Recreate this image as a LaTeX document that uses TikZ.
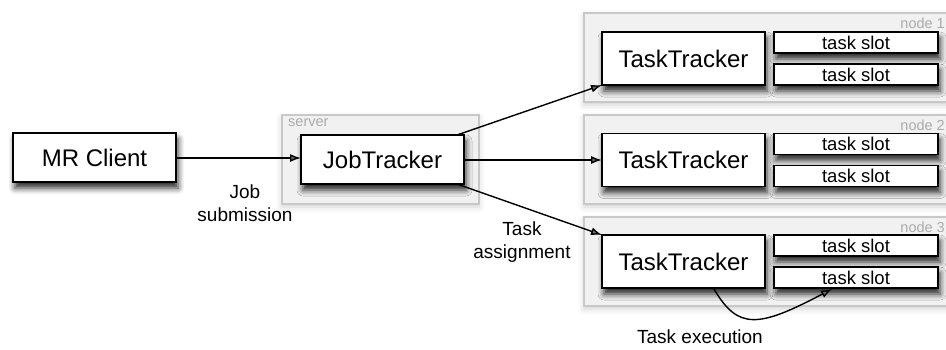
\documentclass[tikz,border=0pt]{standalone}
\usepackage{fontspec}
\setmainfont{Liberation Sans}
\usetikzlibrary{arrows.meta,shadows.blur}
\definecolor{boxgray}{HTML}{F1F1F1}
\definecolor{edgegray}{HTML}{C8C8C8}
\definecolor{labelgray}{HTML}{ABABAB}
\tikzset{
  host/.style={draw=edgegray,line width=1.5pt,fill=boxgray,
    blur shadow={shadow xshift=0pt,shadow yshift=-3pt,shadow blur radius=6pt,shadow opacity=18}},
  proc/.style={draw=black,line width=1.6pt,fill=white,
    blur shadow={shadow xshift=2pt,shadow yshift=-6pt,shadow blur radius=6pt,shadow opacity=85}},
  bigtxt/.style={font=\fontsize{24}{28}\selectfont},
  slottxt/.style={font=\fontsize{18.5}{21}\selectfont},
  captxt/.style={font=\fontsize{19}{23}\selectfont,align=center},
  hostlbl/.style={text=labelgray,font=\fontsize{14.5}{16}\selectfont,inner sep=0pt},
  flow/.style={line width=1.4pt,-{Latex[length=11pt,width=8pt]}}
}
\begin{document}
\begin{tikzpicture}[x=1pt,y=-1pt]
\useasboundingbox (0,0) rectangle (946,349);

% host containers
\draw[host] (584,13) rectangle (970,102);
\draw[host] (584,115) rectangle (970,204);
\draw[host] (584,217) rectangle (970,306);
\draw[host] (282,115) rectangle (479,204);

\node[hostlbl,anchor=east] (n1lbl) at (945,23) {node 1};
\node[hostlbl,anchor=east] (n2lbl) at (945,125) {node 2};
\node[hostlbl,anchor=east] (n3lbl) at (945,227) {node 3};
\node[hostlbl,anchor=west] (srvlbl) at (288,123) {server};

% client and job tracker
\draw[proc] (13,133) rectangle (176,182);
\node[bigtxt] (client) at (94.5,157.5) {MR Client};
\coordinate (clientE) at (176,158);

\draw[proc] (301,135) rectangle (464,184);
\node[bigtxt] (jt) at (382.5,159.5) {JobTracker};
\coordinate (jtW) at (301,158);
\coordinate (jtNE) at (457,135);
\coordinate (jtE) at (464,160);
\coordinate (jtSE) at (457,184);

% task trackers with their slots
\foreach \i/\dy in {1/0,2/101.5,3/203}{
  \draw[proc] (602,32+\dy) rectangle (765,85+\dy);
  \node[bigtxt] (tt\i) at (683.5,58.5+\dy) {TaskTracker};
  \draw[proc] (774,32+\dy) rectangle (938,53+\dy);
  \node[slottxt] (sa\i) at (856,42.5+\dy) {task slot};
  \draw[proc] (774,64+\dy) rectangle (938,85+\dy);
  \node[slottxt] (sb\i) at (856,74.5+\dy) {task slot};
}
\coordinate (tt1SW) at (602,85);
\coordinate (tt2W) at (602,160);
\coordinate (tt3NW) at (602,235);
\coordinate (tt3S) at (714,289);
\coordinate (sb3S) at (832,289);

% connectors
\draw[flow] (clientE) -- (jtW);
\draw[flow] (jtNE) -- (tt1SW);
\draw[flow] (jtE) -- (tt2W);
\draw[flow] (jtSE) -- (tt3NW);
\draw[flow] (tt3S) .. controls (738,330) and (758,328) .. (sb3S);

% captions
\node[captxt] (jobsub) at (245,203) {Job\\submission};
\node[captxt] (taskasg) at (522,242) {Task\\assignment};
\node[captxt] (taskexe) at (700,337) {Task execution};
\end{tikzpicture}
\end{document}
